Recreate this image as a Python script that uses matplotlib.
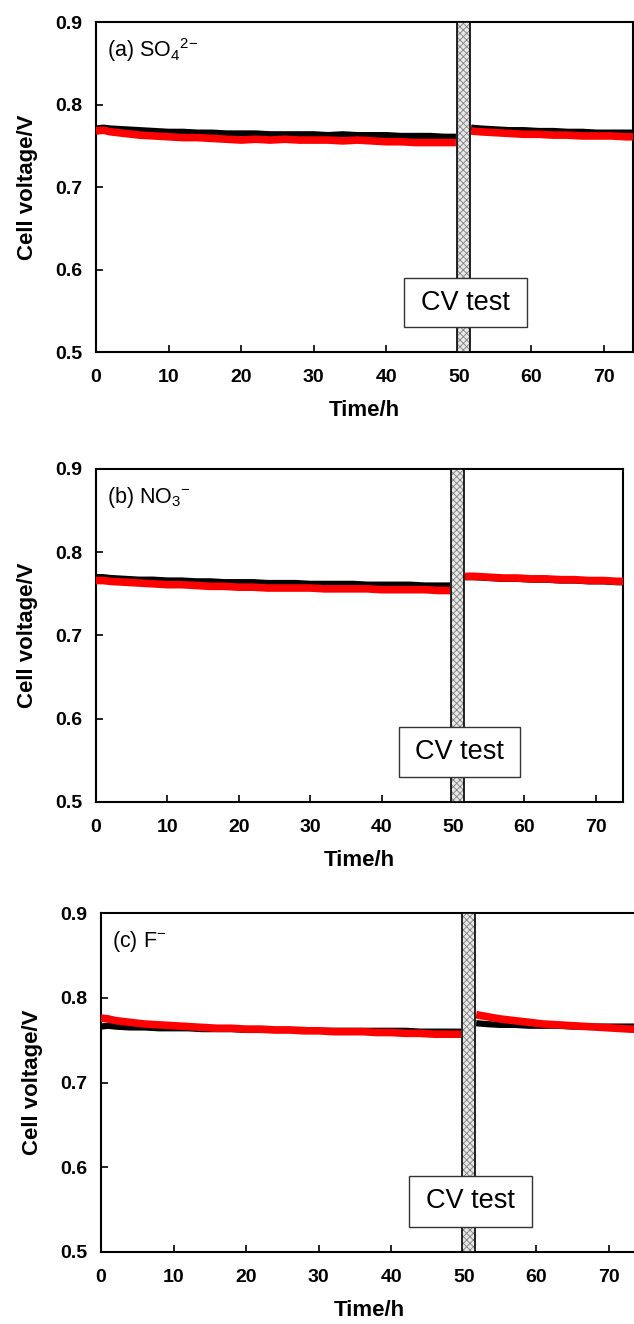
import matplotlib
matplotlib.use('Agg')
import matplotlib.pyplot as plt
from matplotlib.patches import Rectangle
import numpy as np

plt.rcParams['font.family'] = ['Liberation Sans', 'DejaVu Sans']
plt.rcParams['mathtext.default'] = 'regular'
plt.rcParams['hatch.linewidth'] = 0.6

# Sampling times (h) before and after the CV interruption
t_pre = [0, 1, 2, 4, 6, 8, 10, 12, 14, 16, 18, 20, 22, 24, 26, 28, 30, 32, 34,
         36, 38, 40, 42, 44, 46, 48, 49.6]
t_post = [51.7, 53, 55, 57, 59, 61, 63, 65, 67, 69, 71, 73, 74.5]

# (a) SO4 2-
a_black_pre = [0.771, 0.772, 0.771, 0.770, 0.769, 0.768, 0.767, 0.767, 0.766, 0.766,
               0.765, 0.765, 0.765, 0.764, 0.764, 0.764, 0.764, 0.763, 0.764, 0.763,
               0.763, 0.763, 0.762, 0.762, 0.762, 0.761, 0.761]
a_red_pre = [0.768, 0.769, 0.767, 0.765, 0.763, 0.762, 0.761, 0.760, 0.760, 0.759,
             0.758, 0.757, 0.758, 0.757, 0.758, 0.757, 0.757, 0.757, 0.756, 0.757,
             0.756, 0.755, 0.755, 0.754, 0.754, 0.754, 0.754]
a_black_post = [0.772, 0.771, 0.770, 0.769, 0.769, 0.768, 0.768, 0.767, 0.767, 0.766,
                0.766, 0.766, 0.766]
a_red_post = [0.768, 0.767, 0.766, 0.765, 0.764, 0.764, 0.763, 0.763, 0.762, 0.762,
              0.762, 0.761, 0.761]

# (b) NO3-
b_black_pre = [0.770, 0.770, 0.769, 0.768, 0.767, 0.767, 0.766, 0.766, 0.765, 0.765,
               0.764, 0.764, 0.764, 0.763, 0.763, 0.763, 0.762, 0.762, 0.762, 0.762,
               0.761, 0.761, 0.761, 0.761, 0.760, 0.760, 0.760]
b_red_pre = [0.766, 0.766, 0.765, 0.764, 0.763, 0.762, 0.761, 0.761, 0.760, 0.759,
             0.759, 0.758, 0.758, 0.757, 0.757, 0.757, 0.757, 0.756, 0.756, 0.756,
             0.756, 0.755, 0.755, 0.755, 0.755, 0.754, 0.754]
b_black_post = [0.770, 0.770, 0.769, 0.768, 0.768, 0.767, 0.767, 0.766, 0.766, 0.765,
                0.765, 0.764, 0.764]
b_red_post = [0.771, 0.771, 0.770, 0.769, 0.769, 0.768, 0.768, 0.767, 0.767, 0.766,
              0.766, 0.765, 0.765]

# (c) F-
c_black_pre = [0.766, 0.767, 0.766, 0.765, 0.765, 0.764, 0.764, 0.764, 0.763, 0.763,
               0.763, 0.762, 0.762, 0.762, 0.762, 0.762, 0.761, 0.761, 0.761, 0.761,
               0.761, 0.761, 0.761, 0.760, 0.760, 0.760, 0.760]
c_red_pre = [0.776, 0.775, 0.773, 0.771, 0.769, 0.768, 0.767, 0.766, 0.765, 0.764,
             0.764, 0.763, 0.763, 0.762, 0.762, 0.761, 0.761, 0.760, 0.760, 0.760,
             0.759, 0.759, 0.758, 0.758, 0.757, 0.757, 0.757]
c_black_post = [0.770, 0.769, 0.768, 0.768, 0.767, 0.767, 0.767, 0.766, 0.766, 0.766,
                0.766, 0.766, 0.766]
c_red_post = [0.780, 0.778, 0.775, 0.773, 0.771, 0.769, 0.768, 0.767, 0.766, 0.765,
              0.764, 0.763, 0.763]

panels = [
    ('(a) SO$_4$$^{2}$$^{-}$', a_black_pre, a_red_pre, a_black_post, a_red_post),
    ('(b) NO$_3$$^{-}$', b_black_pre, b_red_pre, b_black_post, b_red_post),
    ('(c) F$^{-}$', c_black_pre, c_red_pre, c_black_post, c_red_post),
]

# axes rectangles in figure fractions, and x range of each panel
rects = [(0.1514, 0.7341, 0.847, 0.2492),
         (0.1514, 0.3943, 0.8312, 0.2515),
         (0.1593, 0.0544, 0.847, 0.2560)]
xmax = [74.0, 73.8, 74.0]

cv_start, cv_end = 49.7, 51.6

fig = plt.figure(figsize=(6.34, 13.24), dpi=100)
fig.patch.set_facecolor('white')

for (label, k_pre, r_pre, k_post, r_post), rect, xm in zip(panels, rects, xmax):
    ax = fig.add_axes(rect)

    for t, k, r in ((t_pre, k_pre, r_pre), (t_post, k_post, r_post)):
        ax.plot(t, k, color='black', lw=4.5, solid_capstyle='butt', zorder=2)
        ax.plot(t, r, color='#ff0000', lw=5.5, solid_capstyle='butt', zorder=3)

    # hatched bar marking the CV measurement
    ax.axvspan(cv_start, cv_end, facecolor='#e8e8e8', edgecolor='#808080',
               hatch='xxxxx', lw=0, zorder=4)
    ax.axvspan(cv_start, cv_end, fill=False, edgecolor='black', lw=1.2, zorder=5)

    # label box for the CV test
    ax.add_patch(Rectangle((42.5, 0.530), 16.9, 0.060, facecolor='white',
                           edgecolor='#333333', lw=1.0, zorder=6))
    ax.text(50.95, 0.560, 'CV test', fontsize=19.5, ha='center', va='center',
            zorder=7)

    ax.text(0.02, 0.915, label, transform=ax.transAxes, fontsize=15.5,
            ha='left', va='center')

    ax.set_xlim(0, xm)
    ax.set_ylim(0.5, 0.9)
    ax.set_xticks(np.arange(0, 71, 10))
    ax.set_yticks([0.5, 0.6, 0.7, 0.8, 0.9])
    ax.set_yticklabels(['0.5', '0.6', '0.7', '0.8', '0.9'])
    ax.tick_params(direction='in', length=5, width=1.2, labelsize=14,
                   top=False, right=False)
    ax.tick_params(axis='x', pad=12)
    ax.tick_params(axis='y', pad=10)
    for lab in ax.get_xticklabels() + ax.get_yticklabels():
        lab.set_fontweight('bold')

    ax.set_xlabel('Time/h', fontsize=16, fontweight='bold', labelpad=10)
    ax.set_ylabel('Cell voltage/V', fontsize=16, fontweight='bold', labelpad=12)

    for sp in ax.spines.values():
        sp.set_linewidth(1.5)
        sp.set_color('black')

fig.savefig('out.png', dpi=100, facecolor='white')
